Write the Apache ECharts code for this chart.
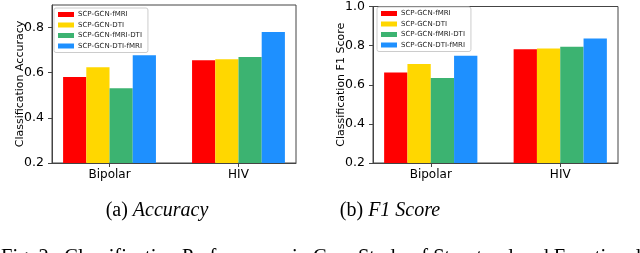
<!DOCTYPE html>
<html>
<head>
<meta charset="utf-8">
<script src="https://cdn.jsdelivr.net/npm/echarts@6/dist/echarts.min.js"></script>
<style>html,body{margin:0;padding:0;background:#fff}#c{width:640px;height:253px}</style>
</head>
<body>
<div id="c"></div>
<script>
const categories = ['Bipolar', 'HIV'];
const methods = ['SCP-GCN-fMRI', 'SCP-GCN-DTI', 'SCP-GCN-fMRI-DTI', 'SCP-GCN-DTI-fMRI'];
const accFMRI = [0.581, 0.655];
const accDTI = [0.624, 0.660];
const accFMRIDTI = [0.531, 0.670];
const accDTIFMRI = [0.677, 0.780];
const f1FMRI = [0.662, 0.781];
const f1DTI = [0.706, 0.785];
const f1FMRIDTI = [0.634, 0.794];
const f1DTIFMRI = [0.748, 0.837];
const yTicksAcc = [0.2, 0.4, 0.6, 0.8];
const yTicksF1 = [0.2, 0.4, 0.6, 0.8, 1.0];

const colors = ['#ff0000', '#ffd700', '#3cb371', '#1e90ff'];
const accSeries = [accFMRI, accDTI, accFMRIDTI, accDTIFMRI];
const f1Series = [f1FMRI, f1DTI, f1FMRIDTI, f1DTIFMRI];
const font = 'DejaVu Sans';
const catIdx = categories.map((c, i) => i);

function xAxis(gi) {
  return {
    type: 'value', gridIndex: gi, min: -0.446, max: 1.446,
    splitLine: {show: false},
    axisLine: {show: true, onZero: false, lineStyle: {color: '#444', width: 1}},
    axisTick: {show: true, customValues: catIdx, length: 4, lineStyle: {color: '#444'}},
    axisLabel: {customValues: catIdx, formatter: v => categories[Math.round(v)], color: '#000',
      fontFamily: font, fontSize: 12, margin: 6}
  };
}
function yAxis(gi, max, ticks, name) {
  return {
    type: 'value', gridIndex: gi, min: 0.2, max: max, interval: 0.2,
    splitLine: {show: false},
    axisLine: {show: true, onZero: false, lineStyle: {color: '#444', width: 1}},
    axisTick: {show: true, customValues: ticks, length: 4, lineStyle: {color: '#444'}},
    axisLabel: {customValues: ticks, formatter: v => v.toFixed(1), color: '#000',
      fontFamily: font, fontSize: 12.5, margin: 8},
    name: name, nameLocation: 'middle', nameGap: 26, nameMoveOverlap: false,
    nameTextStyle: {fontFamily: font, fontSize: 11, color: '#000'}
  };
}
function legend(left, top) {
  return {
    data: methods, orient: 'vertical', left: left, top: top,
    itemWidth: 16, itemHeight: 5, itemGap: 3.5, icon: 'rect',
    padding: [3, 6, 3, 4],
    backgroundColor: '#fff', borderColor: '#ccc', borderWidth: 1, borderRadius: 2,
    textStyle: {fontFamily: font, fontSize: 7, color: '#222', padding: [0, 0, 0, -1]},
    selectedMode: false
  };
}
const series = [];
[accSeries, f1Series].forEach((grp, gi) => {
  grp.forEach((vals, k) => {
    series.push({
      type: 'bar', name: methods[k], xAxisIndex: gi, yAxisIndex: gi,
      data: categories.map((c, i) => [i, vals[i]]),
      barWidth: '18%', barGap: '0%',
      itemStyle: {color: colors[k]}, animation: false
    });
  });
});

const serif = 'Liberation Serif';
const chart = echarts.init(document.getElementById('c'), null, {renderer: 'canvas'});
chart.setOption({
  animation: false,
  grid: [
    {left: 52, right: 344, top: 5, bottom: 90, show: true, borderColor: '#444', borderWidth: 1, backgroundColor: 'transparent'},
    {left: 373, right: 22, top: 4, bottom: 90, show: true, borderColor: '#444', borderWidth: 1, backgroundColor: 'transparent'}
  ],
  xAxis: [xAxis(0), xAxis(1)],
  yAxis: [yAxis(0, 0.9, yTicksAcc, 'Classification Accuracy'), yAxis(1, 1.0, yTicksF1, 'Classification F1 Score')],
  legend: [legend(54, 8), legend(377, 7)],
  series: series,
  graphic: [
    {type: 'text', x: 157, y: 211, style: {text: '{n|(a) }{i|Accuracy}', align: 'center', verticalAlign: 'middle',
      rich: {n: {fontFamily: serif, fontSize: 20, fill: '#000'}, i: {fontFamily: serif, fontStyle: 'italic', fontSize: 20, fill: '#000'}}}},
    {type: 'text', x: 390, y: 211, style: {text: '{n|(b) }{i|F1 Score}', align: 'center', verticalAlign: 'middle',
      rich: {n: {fontFamily: serif, fontSize: 20, fill: '#000'}, i: {fontFamily: serif, fontStyle: 'italic', fontSize: 20, fill: '#000'}}}},
    {type: 'text', x: 1, y: 247, style: {text: 'Fig. 2.  Classification Performance in Case Study of Structural and Functional', fontFamily: serif, fontSize: 20.5, fill: '#000', align: 'left', verticalAlign: 'top'}}
  ]
});
</script>
</body>
</html>
